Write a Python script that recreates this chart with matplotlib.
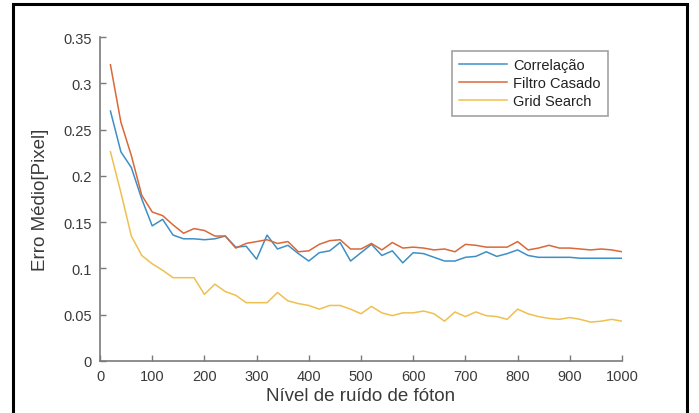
import matplotlib
matplotlib.use("Agg")
import matplotlib.pyplot as plt
from matplotlib.patches import Rectangle

# noise level (x) and mean error of the three methods
noise = list(range(20, 1001, 20))

correlacao = [0.270, 0.226, 0.209, 0.175, 0.146, 0.153, 0.136, 0.132, 0.132, 0.131,
              0.132, 0.135, 0.123, 0.124, 0.110, 0.136, 0.121, 0.125, 0.116, 0.108,
              0.117, 0.119, 0.128, 0.108, 0.117, 0.126, 0.114, 0.119, 0.106, 0.117,
              0.116, 0.112, 0.108, 0.108, 0.112, 0.113, 0.118, 0.113, 0.116, 0.120,
              0.114, 0.112, 0.112, 0.112, 0.112, 0.111, 0.111, 0.111, 0.111, 0.111]

filtro_casado = [0.320, 0.258, 0.222, 0.179, 0.161, 0.157, 0.147, 0.138, 0.143, 0.141,
                 0.135, 0.135, 0.122, 0.127, 0.129, 0.131, 0.127, 0.129, 0.118, 0.119,
                 0.126, 0.130, 0.131, 0.121, 0.121, 0.127, 0.120, 0.128, 0.122, 0.123,
                 0.122, 0.120, 0.121, 0.118, 0.126, 0.125, 0.123, 0.123, 0.123, 0.129,
                 0.120, 0.122, 0.125, 0.122, 0.122, 0.121, 0.120, 0.121, 0.120, 0.118]

grid_search = [0.226, 0.182, 0.135, 0.114, 0.105, 0.098, 0.090, 0.090, 0.090, 0.072,
               0.083, 0.075, 0.071, 0.063, 0.063, 0.063, 0.074, 0.065, 0.062, 0.060,
               0.056, 0.060, 0.060, 0.056, 0.051, 0.059, 0.052, 0.049, 0.052, 0.052,
               0.054, 0.051, 0.043, 0.053, 0.048, 0.053, 0.049, 0.048, 0.045, 0.056,
               0.051, 0.048, 0.046, 0.045, 0.047, 0.045, 0.042, 0.043, 0.045, 0.043]

labels = ["Correlação", "Filtro Casado", "Grid Search"]
colors = ["#3d8fc6", "#d9683a", "#eec050"]

plt.rcParams["font.family"] = ["Liberation Sans", "DejaVu Sans"]

AXIS_GRAY = "#7a7a7a"
TEXT_GRAY = "#3a3a3a"

fig = plt.figure(figsize=(6.99, 4.14), dpi=100)
ax = fig.add_axes([100 / 699, 52 / 414, 522 / 699, 324 / 414])

for series, label, color in zip([correlacao, filtro_casado, grid_search], labels, colors):
    ax.plot(noise, series, color=color, lw=1.1, label=label)

ax.set_xlim(0, 1000)
ax.set_ylim(0, 0.35)
ax.set_xticks(range(0, 1001, 100))
ax.set_yticks([0, 0.05, 0.1, 0.15, 0.2, 0.25, 0.3, 0.35])
ax.set_yticklabels(["0", "0.05", "0.1", "0.15", "0.2", "0.25", "0.3", "0.35"])

for side in ["top", "right"]:
    ax.spines[side].set_visible(False)
for side in ["left", "bottom"]:
    ax.spines[side].set_color(AXIS_GRAY)
    ax.spines[side].set_linewidth(1.2)

ax.tick_params(direction="in", length=4, width=1.0, color=AXIS_GRAY,
               labelcolor=TEXT_GRAY, labelsize=10.5, pad=6)

ax.set_xlabel("Nível de ruído de fóton", fontsize=13.5, color=TEXT_GRAY, labelpad=3)
ax.set_ylabel("Erro Médio[Pixel]", fontsize=13.5, color=TEXT_GRAY, labelpad=10)

leg = ax.legend(loc="upper left", bbox_to_anchor=(0.674, 0.957), fontsize=10.5,
                frameon=True, fancybox=False, handlelength=3.3, handletextpad=0.4,
                borderpad=0.5, labelspacing=0.28, borderaxespad=0)
leg.get_frame().set_edgecolor("#8a8a8a")
leg.get_frame().set_linewidth(1.2)
for t in leg.get_texts():
    t.set_color("#222222")

# black frame around the whole picture (bottom edge cut off)
fig.patches.append(Rectangle((13 / 699, -0.1), (687 - 13) / 699, 1.1 - 5 / 414,
                             transform=fig.transFigure, fill=False,
                             edgecolor="black", linewidth=2.2))

fig.savefig("out.png", dpi=100)
